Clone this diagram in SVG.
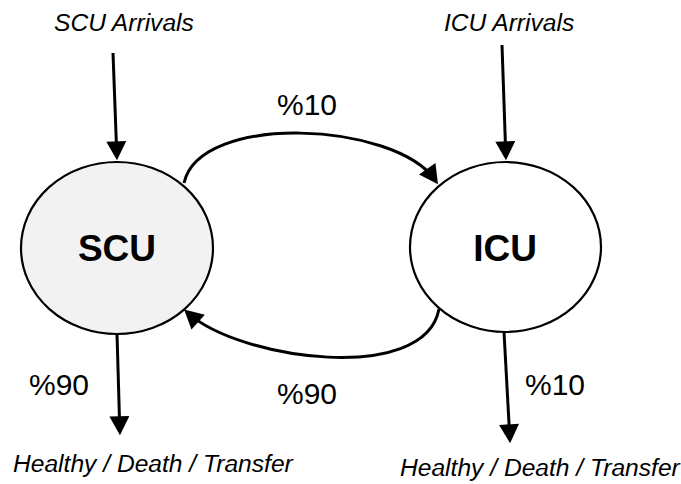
<svg xmlns="http://www.w3.org/2000/svg" width="681" height="484" viewBox="0 0 681 484">
  <style>
    .node { stroke: #000; stroke-width: 2.2; }
    .edge { fill: none; stroke: #000; stroke-width: 3; marker-end: url(#head); }
    .title { font-family: "Liberation Sans", Arial, sans-serif; font-weight: bold; font-size: 37px; fill: #000; text-anchor: middle; }
    .pct { font-family: "Liberation Sans", Arial, sans-serif; font-size: 30px; fill: #000; }
    .note { font-family: "Liberation Sans", Arial, sans-serif; font-style: italic; font-size: 24.6px; fill: #000; }
  </style>
  <defs>
    <marker id="head" markerUnits="userSpaceOnUse" markerWidth="20" markerHeight="20" viewBox="0 0 18 19" refX="13" refY="9.5" orient="auto">
      <path d="M0,0 L18,9.5 L0,19 z" fill="#000"/>
    </marker>
  </defs>
  <rect width="681" height="484" fill="#fff"/>

  <g id="connectors">
    <!-- arrivals -->
    <path class="edge" d="M113,53 L116.8,155"/>
    <path class="edge" d="M502,45 L505.8,155"/>
    <!-- SCU -> ICU -->
    <path class="edge" d="M184,183 C200,112 395,122 435,180"/>
    <!-- ICU -> SCU -->
    <path class="edge" d="M439,309 C425,385 240,360 188,313"/>
    <!-- exits -->
    <path class="edge" d="M117,334 L119.8,430"/>
    <path class="edge" d="M504,332 L509.8,438"/>
  </g>

  <g id="scu">
    <ellipse class="node" cx="117" cy="248" rx="96" ry="86" fill="#f2f2f2"/>
    <text class="title" x="117" y="261">SCU</text>
  </g>

  <g id="icu">
    <ellipse class="node" cx="505.5" cy="247" rx="95.5" ry="85" fill="#fff"/>
    <text class="title" x="505" y="261">ICU</text>
  </g>

  <g id="labels">
    <text class="note" x="54" y="31">SCU Arrivals</text>
    <text class="note" x="444" y="31">ICU Arrivals</text>
    <text class="pct" x="277" y="115">%10</text>
    <text class="pct" x="277" y="404">%90</text>
    <text class="pct" x="29" y="395">%90</text>
    <text class="pct" x="525" y="395">%10</text>
    <text class="note" x="13" y="472">Healthy / Death / Transfer</text>
    <text class="note" x="400" y="476">Healthy / Death / Transfer</text>
  </g>
</svg>
